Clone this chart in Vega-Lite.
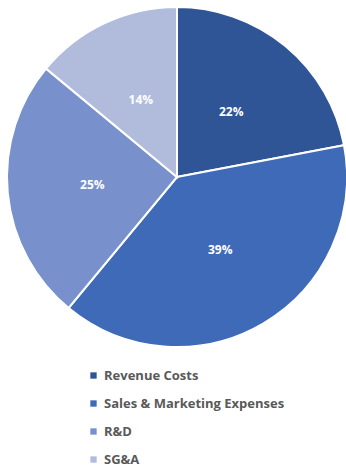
{
  "$schema": "https://vega.github.io/schema/vega-lite/v6.json",
  "width": 338,
  "height": 354,
  "autosize": "none",
  "padding": {"left": 8, "top": 0, "right": 0, "bottom": 116},
  "background": "white",
  "data": {
    "values": [
      {"category": "Revenue Costs", "share": 0.22, "ord": 1},
      {"category": "Sales & Marketing Expenses", "share": 0.39, "ord": 2},
      {"category": "R&D", "share": 0.25, "ord": 3},
      {"category": "SG&A", "share": 0.14, "ord": 4}
    ]
  },
  "encoding": {
    "theta": {"field": "share", "type": "quantitative", "stack": true},
    "order": {"field": "ord", "type": "quantitative"},
    "color": {
      "field": "category",
      "type": "nominal",
      "sort": null,
      "scale": {
        "domain": ["Revenue Costs", "Sales & Marketing Expenses", "R&D", "SG&A"],
        "range": ["#2F5597", "#3F6AB7", "#7891CD", "#B1BCDD"]
      },
      "legend": {
        "title": null,
        "orient": "none",
        "legendX": 79,
        "legendY": 369,
        "symbolType": "square",
        "symbolSize": 40,
        "symbolStrokeWidth": 0,
        "labelFont": "Open Sans",
        "labelFontSize": 13,
        "labelFontWeight": "bold",
        "labelColor": "#595959",
        "labelOffset": 4,
        "labelLimit": 320,
        "rowPadding": 14,
        "padding": 0
      }
    }
  },
  "layer": [
    {
      "mark": {"type": "arc", "outerRadius": 170, "stroke": "white", "strokeWidth": 2}
    },
    {
      "mark": {"type": "text", "radius": 85, "font": "Open Sans", "fontSize": 12, "fontWeight": "bold", "fill": "white"},
      "encoding": {
        "text": {"field": "share", "type": "quantitative", "format": ".0%"},
        "color": {"value": "white"}
      }
    }
  ]
}
